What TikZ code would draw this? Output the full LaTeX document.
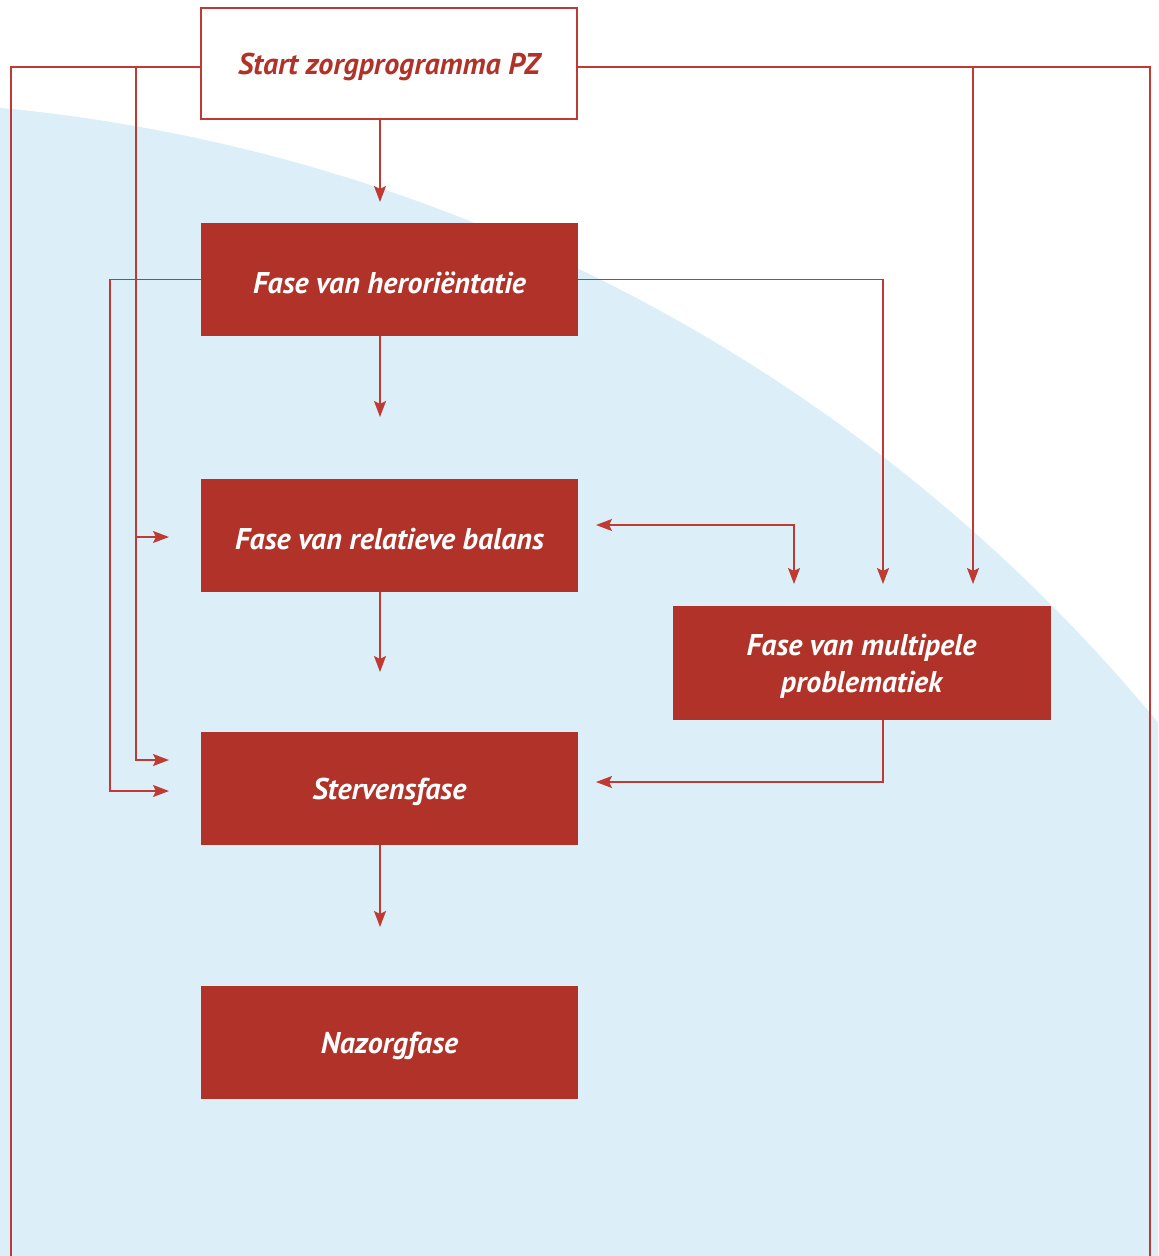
\documentclass[tikz,border=0pt]{standalone}
\usepackage{fontspec}
\setmainfont{PT Sans}
\usetikzlibrary{arrows.meta}
\definecolor{pzred}{HTML}{B03228}
\definecolor{pzline}{HTML}{BE3A33}
\definecolor{pzblue}{HTML}{DCEFF8}
\begin{document}
\begin{tikzpicture}[x=0.5pt,y=-0.5pt,
  phase/.style={rectangle, fill=pzred, inner sep=0pt,
    minimum width=188.5pt, minimum height=56.5pt},
  startbox/.style={phase, fill=white, draw=pzline, line width=0.75pt,
    minimum width=188pt, minimum height=55.5pt},
  lbl/.style={text=white, inner sep=0pt, align=center, yshift=-1.8pt,
    font=\fontsize{15}{18.5}\selectfont\bfseries\itshape},
  slbl/.style={lbl, text=pzred},
  ln/.style={draw=pzline, line width=0.75pt},
  arr/.style={ln, -{Stealth[length=8pt,width=6pt,inset=1.5pt]}},
  arrtwo/.style={ln, {Stealth[length=8pt,width=6pt,inset=1.5pt]}-{Stealth[length=8pt,width=6pt,inset=1.5pt]}}
]
\useasboundingbox (0,0) rectangle (1158,1256);
\begin{scope}
  \clip (0,0) rectangle (1158,1256);
  \fill[pzblue] (-164.5,1816) circle[radius=1716];
\end{scope}

\node[startbox, label={[slbl]center:Start zorgprogramma PZ}] (start) at (389,63.5) {};
\node[phase, label={[lbl]center:Fase van heroriëntatie}] (hero) at (389.5,279.5) {};
\node[phase, label={[lbl]center:Fase van relatieve balans}] (rel) at (389.5,535) {};
\node[phase, label={[lbl]center:Stervensfase}] (ster) at (389.5,788.5) {};
\node[phase, label={[lbl]center:Nazorgfase}] (naz) at (389.5,1042.5) {};
\node[phase, minimum width=189pt, minimum height=57pt,
  label={[lbl]center:Fase van multipele\\problematiek}] (mult) at (861.5,662.5) {};

\coordinate (yL) at (0,67);
\coordinate (t1) at (380,202);
\coordinate (t2) at (380,417);
\coordinate (t3) at (380,672);
\coordinate (t4) at (380,927);
\coordinate (tRelL) at (169,537);
\coordinate (tSterL1) at (169,760);
\coordinate (tSterL2) at (169,791);
\coordinate (tRelR) at (596,525);
\coordinate (tSterR) at (596,782);
\coordinate (tM1) at (794,584);
\coordinate (tM2) at (883,584);
\coordinate (tM3) at (973,584);
\coordinate (jL) at (136,67);
\coordinate (jR) at (973,67);
\coordinate (kL) at (110,279.5);
\coordinate (bl) at (11,1260);
\coordinate (br) at (1150,1260);

% main column
\draw[arr] (start.south -| t1) -- (t1);
\draw[arr] (hero.south -| t2) -- (t2);
\draw[arr] (rel.south -| t3) -- (t3);
\draw[arr] (ster.south -| t4) -- (t4);

% left side
\draw[ln] (start.west |- yL) -| (bl);
\draw[arr] (jL) |- (tSterL1);
\draw[arr] (jL |- tRelL) -- (tRelL);
\draw[arr] (hero.west) -- (kL) |- (tSterL2);

% right side
\draw[ln] (start.east |- yL) -| (br);
\draw[arr] (jR) -- (tM3);
\draw[arr] (hero.east) -| (tM2);
\draw[arrtwo] (tRelR) -| (tM1);
\draw[arr] (mult.south -| tM2) |- (tSterR);
\end{tikzpicture}
\end{document}
